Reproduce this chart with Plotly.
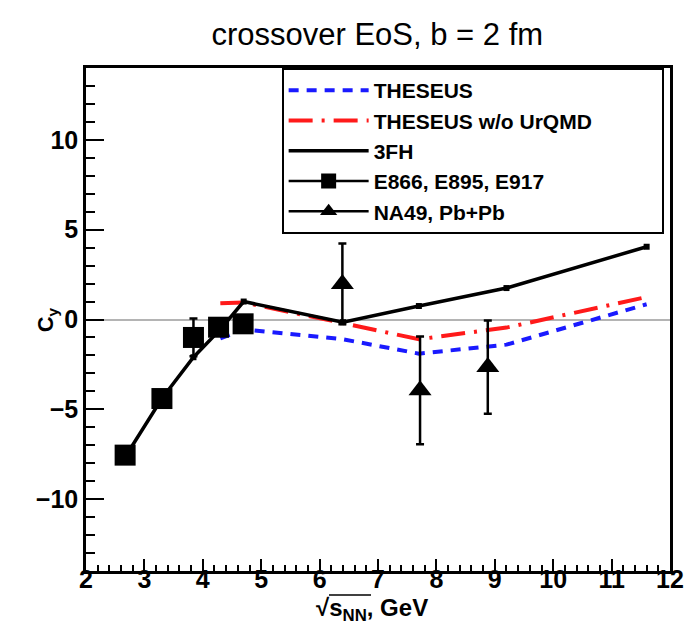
import plotly.graph_objects as go

# ---- data ----
theseus_x = [4.3, 4.7, 6.4, 7.7, 9.2, 11.6]
theseus_y = [-1.05, -0.55, -1.1, -1.9, -1.4, 0.85]

wo_urqmd_x = [4.3, 4.7, 6.4, 7.7, 9.2, 11.6]
wo_urqmd_y = [0.9, 0.95, -0.2, -1.1, -0.45, 1.25]

fh3_x = [2.7, 3.3, 3.84, 4.3, 4.7, 6.4, 7.7, 9.2, 11.6]
fh3_y = [-7.5, -4.4, -2.1, -0.55, 1.0, -0.15, 0.75, 1.75, 4.05]

ags_x = [2.67, 3.3, 3.84, 4.27, 4.69]
ags_y = [-7.55, -4.4, -1.0, -0.43, -0.24]
ags_err = [0.3, 0.3, 1.05, 0.3, 0.3]

na49_x = [6.39, 7.72, 8.88]
na49_y = [1.98, -3.94, -2.65]
na49_err = [2.25, 3.0, 2.6]

x_ticks = [2, 3, 4, 5, 6, 7, 8, 9, 10, 11, 12]
y_ticks = [-10, -5, 0, 5, 10]
y_ticklabels = ["\u221210", "\u22125", "0", "5", "10"]

FONT = "Liberation Sans, Arial, Helvetica, sans-serif"
PAD = "\u00a0" * 11  # widens the legend box like the original

fig = go.Figure()

fig.add_trace(go.Scatter(x=theseus_x, y=theseus_y, mode="lines", name="THESEUS",
                         line=dict(color="#1a1aff", width=4, dash="10px,8px")))
fig.add_trace(go.Scatter(x=wo_urqmd_x, y=wo_urqmd_y, mode="lines",
                         name="THESEUS w/o UrQMD" + PAD,
                         line=dict(color="#ff1a1a", width=4, dash="24px,9px,3px,9px")))
fig.add_trace(go.Scatter(x=fh3_x, y=fh3_y, mode="lines", name="3FH",
                         line=dict(color="black", width=3.5)))
fig.add_trace(go.Scatter(x=fh3_x, y=fh3_y, mode="markers", showlegend=False,
                         marker=dict(symbol="square", size=6, color="black")))
fig.add_trace(go.Scatter(x=ags_x, y=ags_y, mode="markers", showlegend=False,
                         marker=dict(symbol="square", size=21, color="black"),
                         error_y=dict(type="data", array=ags_err, color="black",
                                      thickness=2.5, width=4)))
fig.add_trace(go.Scatter(x=na49_x, y=na49_y, mode="markers", showlegend=False,
                         marker=dict(symbol="triangle-up", size=20, color="black"),
                         error_y=dict(type="data", array=na49_err, color="black",
                                      thickness=2.5, width=4)))
# legend entries for the data (line + marker, as in the original legend)
fig.add_trace(go.Scatter(x=[None], y=[None], mode="lines+markers", name="E866, E895, E917",
                         line=dict(color="black", width=2.5),
                         marker=dict(symbol="square", size=15, color="black")))
fig.add_trace(go.Scatter(x=[None], y=[None], mode="lines+markers", name="NA49, Pb+Pb",
                         line=dict(color="black", width=2.5),
                         marker=dict(symbol="triangle-up", size=15, color="black")))

fig.update_layout(
    width=686, height=635,
    margin=dict(l=86, r=16, t=68, b=64, autoexpand=False),
    paper_bgcolor="white", plot_bgcolor="white",
    font=dict(family=FONT, color="black"),
    title=dict(text="crossover EoS, b = 2 fm", x=0.55, xanchor="center",
               y=1 - 34 / 635, yanchor="middle",
               font=dict(size=31, family=FONT, color="black")),
    showlegend=True,
    legend=dict(x=0.335, y=1.0, xanchor="left", yanchor="top",
                bgcolor="white", bordercolor="black", borderwidth=2,
                font=dict(size=21, family=FONT, color="black", weight="bold"),
                itemwidth=80, tracegroupgap=0),
    xaxis=dict(range=[2, 12], tickvals=x_ticks, ticks="inside", ticklen=12,
               tickwidth=2, tickcolor="black", showgrid=False, zeroline=False,
               showline=True, linecolor="black", linewidth=2.5, mirror=True,
               automargin=False, ticklabelstandoff=-16,
               tickfont=dict(size=25, family=FONT, color="black", weight="bold"),
               minor=dict(ticks="inside", dtick=0.2, ticklen=6, tickwidth=1.5,
                          tickcolor="black", showgrid=False)),
    yaxis=dict(range=[-14, 14], tickvals=y_ticks, ticktext=y_ticklabels,
               ticks="inside", ticklen=18, tickwidth=2, tickcolor="black",
               showgrid=False, zeroline=True, zerolinecolor="#b4b4b4", zerolinewidth=2,
               showline=True, linecolor="black", linewidth=2.5, mirror=True,
               automargin=False,
               tickfont=dict(size=25, family=FONT, color="black", weight="bold"),
               minor=dict(ticks="inside", dtick=1, ticklen=9, tickwidth=2,
                          tickcolor="black", showgrid=False)),
    annotations=[
        dict(text="C<sub>y</sub>", xref="paper", yref="paper",
             x=-0.067, y=0.5, xanchor="center", yanchor="middle",
             textangle=-90, showarrow=False,
             font=dict(size=22, family=FONT, color="black", weight="bold")),
        dict(text="\u221as<sub>NN</sub>, GeV", xref="paper", yref="paper",
             x=(372 - 86) / 584, y=-(609 - 571) / 503, xanchor="center", yanchor="middle",
             showarrow=False,
             font=dict(size=24, family=FONT, color="black", weight="bold")),
    ],
    shapes=[
        # overline of the square-root sign in the x-axis title
        dict(type="line", xref="paper", yref="paper",
             x0=(329 - 86) / 584, x1=(371 - 86) / 584,
             y0=-(595 - 571) / 503, y1=-(595 - 571) / 503,
             line=dict(color="black", width=1.5)),
    ],
)

fig.write_html("out.html", config={"displayModeBar": False},
               post_script="document.body.style.margin='0';")
